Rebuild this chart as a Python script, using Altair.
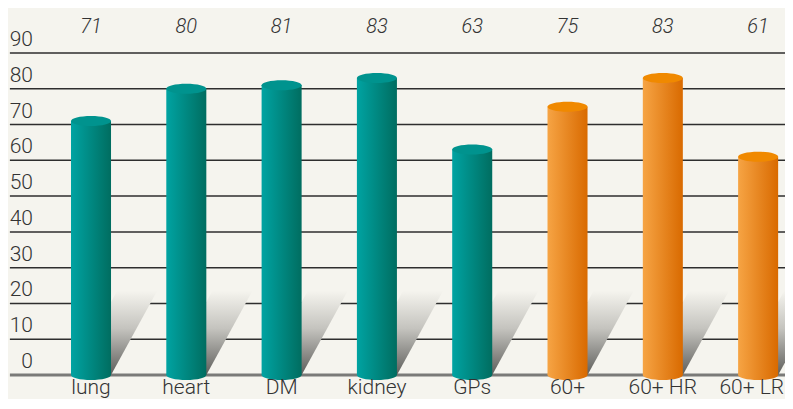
import altair as alt
import pandas as pd

categories = ["lung", "heart", "DM", "kidney", "GPs", "60+", "60+ HR", "60+ LR"]
values = [71, 80, 81, 83, 63, 75, 83, 61]
groups = ["teal"] * 5 + ["orange"] * 3
y_ticks = [0, 10, 20, 30, 40, 50, 60, 70, 80, 90]

BG = "#f5f4ee"
X_DOM = [-0.871, 7.282]
Y_DOM = [-6.73, 102.6]
HALF = 0.21      # half bar width in x units
SHEAR = 0.483    # shadow shift in x units
SH_TOP = 23.5    # shadow height in value units

bars = pd.DataFrame({
    "idx": list(range(len(categories))),
    "cat": categories,
    "val": values,
    "grp": groups,
})
bars["x0"] = bars["idx"] - HALF
bars["x1"] = bars["idx"] + HALF
bars["zero"] = 0
bars["top_lbl"] = 95.6
bars["bot_lbl"] = -5.3
bars["last"] = bars["idx"] == len(categories) - 1

shadow_rows = []
for i, c in enumerate(categories):
    shadow_rows.append({"cat": c, "y": 0, "sx": i - HALF, "sx2": i + HALF})
    shadow_rows.append({"cat": c, "y": SH_TOP, "sx": i - HALF + SHEAR, "sx2": i + HALF + SHEAR})
shadows = pd.DataFrame(shadow_rows)

grid = pd.DataFrame({"v": y_ticks[1:], "xa": X_DOM[0] + 0.02, "xb": X_DOM[1]})
base = pd.DataFrame({"v": [0], "xa": X_DOM[0] + 0.02, "xb": X_DOM[1]})
ticks = pd.DataFrame({"v": y_ticks, "lbl": [str(t) for t in y_ticks], "xl": -0.609})

xs = alt.Scale(domain=X_DOM, nice=False, zero=False)
ys = alt.Scale(domain=Y_DOM, nice=False, zero=False)

def X(f):
    return alt.X(f, type="quantitative", scale=xs, axis=None, stack=None)

def Y(f):
    return alt.Y(f, type="quantitative", scale=ys, axis=None, stack=None)

def grad_h(c0, c1):
    return alt.Gradient(gradient="linear", x1=0, y1=0, x2=1, y2=0,
                        stops=[alt.GradientStop(offset=0, color=c0),
                               alt.GradientStop(offset=1, color=c1)])

shadow_grad = alt.Gradient(gradient="linear", x1=0, y1=1, x2=0, y2=0,
                           stops=[alt.GradientStop(offset=0, color="#5e5e5b"),
                                  alt.GradientStop(offset=0.55, color="#c4c3be"),
                                  alt.GradientStop(offset=1, color=BG)])

grid_layer = alt.Chart(grid).mark_rule(color="#2e2e2e", strokeWidth=1.5).encode(
    x=X("xa"), x2="xb", y=Y("v"))
base_layer = alt.Chart(base).mark_rule(color="#7a7a78", strokeWidth=3).encode(
    x=X("xa"), x2="xb", y=Y("v"))

tick_layer = alt.Chart(ticks).mark_text(
    align="right", baseline="alphabetic", dy=-7, fontSize=21, font="Roboto",
    fontWeight=300, color="#333333").encode(x=X("xl"), y=Y("v"), text="lbl")

shadow_layer = alt.Chart(shadows).mark_area(orient="horizontal", fill=shadow_grad).encode(
    y=Y("y"), x=X("sx"), x2="sx2", detail="cat")

ELLIPSE = "M -1 0 A 1 0.25 0 1 1 1 0 A 1 0.25 0 1 1 -1 0 Z"

cols = {
    "teal": ("#00a3a2", "#006d60", "#00938e"),
    "orange": ("#f6a444", "#d96a00", "#f08900"),
}

cyl_layers = []
for g, (c0, c1, ctop) in cols.items():
    src = alt.Chart(bars).transform_filter(alt.datum.grp == g)
    bottom = src.mark_point(shape=ELLIPSE, size=1600, filled=True, strokeWidth=0,
                            fill=grad_h(c0, c1), opacity=1).encode(x=X("idx"), y=Y("zero"))
    body = src.mark_bar(fill=grad_h(c0, c1)).encode(x=X("x0"), x2="x1", y=Y("zero"), y2="val")
    top = src.mark_point(shape=ELLIPSE, size=1600, filled=True, strokeWidth=0,
                         fill=ctop, opacity=1).encode(x=X("idx"), y=Y("val"))
    cyl_layers += [bottom, body, top]

val_lbl = alt.Chart(bars).mark_text(
    align="center", baseline="alphabetic", fontSize=20, font="Roboto", fontStyle="italic",
    fontWeight=300, color="#333333").encode(x=X("idx"), y=Y("top_lbl"), text="val:Q")

cat_lbl = alt.Chart(bars).transform_filter("!datum.last").mark_text(
    align="center", baseline="alphabetic", fontSize=21, font="Roboto",
    fontWeight=300, color="#333333").encode(x=X("idx"), y=Y("bot_lbl"), text="cat:N")

cat_lbl_last = alt.Chart(bars).transform_filter("datum.last").mark_text(
    align="right", baseline="alphabetic", fontSize=21, font="Roboto", dx=26,
    fontWeight=300, color="#333333").encode(x=X("idx"), y=Y("bot_lbl"), text="cat:N")

chart = alt.layer(
    grid_layer, base_layer, shadow_layer, *cyl_layers, tick_layer, val_lbl, cat_lbl, cat_lbl_last
).properties(
    width=777, height=391, background=BG, padding=0,
    autosize=alt.AutoSizeParams(type="none"),
).configure_view(stroke=None, fill=BG)

chart.save("out.html", embed_options={"renderer": "svg", "actions": False})
